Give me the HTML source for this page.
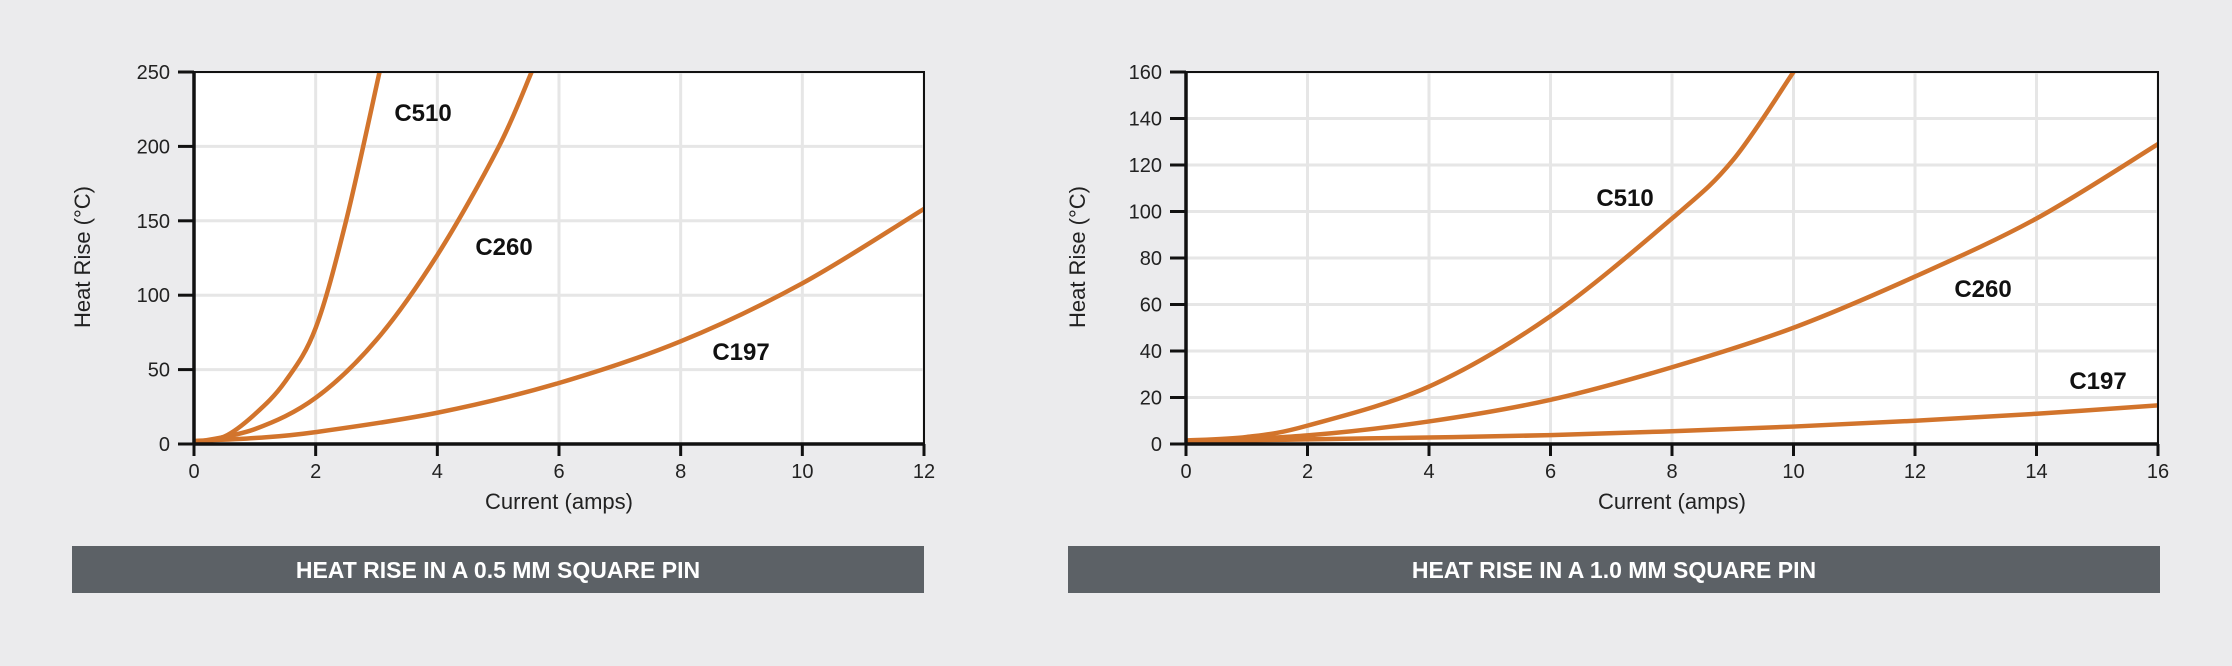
<!DOCTYPE html>
<html><head><meta charset="utf-8"><style>
html,body{margin:0;padding:0;background:#ebebed;}
svg{display:block;font-family:"Liberation Sans",sans-serif;}
</style></head><body>
<svg id="chart" width="2232" height="666" viewBox="0 0 2232 666" xmlns="http://www.w3.org/2000/svg">
<rect width="2232" height="666" fill="#ebebed"/>
<defs>
<clipPath id="clipL"><rect x="194" y="72" width="730" height="372"/></clipPath>
<clipPath id="clipR"><rect x="1186" y="72" width="972" height="372"/></clipPath>
</defs>
<g id="left"></g>
<g id="right"></g>
<rect x="72" y="546" width="852" height="47" fill="#5c6166"/>
<text x="498" y="578" text-anchor="middle" fill="#fff" font-size="23" font-weight="bold">HEAT RISE IN A 0.5 MM SQUARE PIN</text>
<rect x="1068" y="546" width="1092" height="47" fill="#5c6166"/>
<text x="1614" y="578" text-anchor="middle" fill="#fff" font-size="23" font-weight="bold">HEAT RISE IN A 1.0 MM SQUARE PIN</text>
</svg>
<script>
// Left chart data (0.5 mm)
const leftXTicks = [0,2,4,6,8,10,12];
const leftYTicks = [0,50,100,150,200,250];
const leftC510X = [0,0.5,1,1.5,2,2.5,3.05];
const leftC510Y = [1,5,20,42,78,150,250];
const leftC260X = [0,1,2,3,4,5,5.55];
const leftC260Y = [1,10,31,70,127,199,250];
const leftC197X = [0,1,2,4,6,8,10,12];
const leftC197Y = [2,4,8,21,41,69,108,158];
// Right chart data (1.0 mm)
const rightXTicks = [0,2,4,6,8,10,12,14,16];
const rightYTicks = [0,20,40,60,80,100,120,140,160];
const rightC510X = [0,1,2,4,6,8,9,10];
const rightC510Y = [1.5,3,7.9,24.7,55,97,122,160];
const rightC260X = [0,2,4,6,8,10,12,14,16];
const rightC260Y = [1,3.7,9.7,19,33,50,72,97,129];
const rightC197X = [0,2,4,6,8,10,12,14,16];
const rightC197Y = [1,2,2.8,3.8,5.5,7.5,10,13,16.6];

const NS='http://www.w3.org/2000/svg';
function mk(tag,attrs,parent){const e=document.createElementNS(NS,tag);for(const k in attrs)e.setAttribute(k,attrs[k]);parent.appendChild(e);return e;}

function spline(pts){
  let d='M'+pts[0][0]+','+pts[0][1];
  for(let i=0;i<pts.length-1;i++){
    const p0=pts[Math.max(0,i-1)],p1=pts[i],p2=pts[i+1],p3=pts[Math.min(pts.length-1,i+2)];
    const c1x=p1[0]+(p2[0]-p0[0])/6,c1y=p1[1]+(p2[1]-p0[1])/6;
    const c2x=p2[0]-(p3[0]-p1[0])/6,c2y=p2[1]-(p3[1]-p1[1])/6;
    d+=' C'+c1x+','+c1y+' '+c2x+','+c2y+' '+p2[0]+','+p2[1];
  }
  return d;
}

function drawChart(g,cfg){
  const {x0,x1,y0,y1,xmax,ymax,xTicks,yTicks,series,labels,clip,ylx,ytx}=cfg;
  const sx=v=>x0+(x1-x0)*v/xmax, sy=v=>y1-(y1-y0)*v/ymax;
  const bg=mk('rect',{x:x0,y:y0,width:x1-x0,height:y1-y0,fill:'#fff'},g);
  
  
  xTicks.forEach(t=>{
    const l=mk('line',{x1:sx(t),x2:sx(t),y1:y0,y2:y1,stroke:'#e6e6e6','stroke-width':3},g);
    
    
  });
  yTicks.forEach(t=>{
    const l=mk('line',{x1:x0,x2:x1,y1:sy(t),y2:sy(t),stroke:'#e6e6e6','stroke-width':3},g);
    
    
  });
  series.forEach(s=>{
    const pts=s.x.map((v,i)=>[sx(v),sy(s.y[i])]);
    const p=mk('path',{d:spline(pts),fill:'none',stroke:'#d2742c','stroke-width':4.5,'clip-path':'url(#'+clip+')','stroke-linecap':'round'},g);
    
    
  });
  const fr=mk('rect',{x:x0,y:y0,width:x1-x0,height:y1-y0,fill:'none',stroke:'#111','stroke-width':2},g);
  
  
  const ax=mk('line',{x1:x0,x2:x0,y1:y0,y2:y1+1.5,stroke:'#111','stroke-width':3.5},g);
  
  
  const bx=mk('line',{x1:x0,x2:x1,y1:y1,y2:y1,stroke:'#111','stroke-width':3.5},g);
  
  
  yTicks.forEach(t=>{
    const tk=mk('line',{x1:x0-16,x2:x0,y1:sy(t),y2:sy(t),stroke:'#111','stroke-width':3},g);
    
    
    const tx=mk('text',{x:x0-24,y:sy(t)+7,'text-anchor':'end','font-size':20,fill:'#222'},g);
    tx.textContent=t;
    
    
  });
  xTicks.forEach(t=>{
    const tk=mk('line',{x1:sx(t),x2:sx(t),y1:y1,y2:y1+12,stroke:'#111','stroke-width':3},g);
    
    
    const tx=mk('text',{x:sx(t),y:y1+34,'text-anchor':'middle','font-size':20,fill:'#222'},g);
    tx.textContent=t;
    
    
  });
  const xt=mk('text',{x:(x0+x1)/2,y:509,'text-anchor':'middle','font-size':22,fill:'#222'},g);
  xt.textContent='Current (amps)';
  
  
  const yt=mk('text',{x:ytx,y:257,'text-anchor':'middle','font-size':22,fill:'#222',transform:'rotate(-90 '+ytx+' 257)','dy':8},g);
  yt.textContent='Heat Rise (°C)';
  
  
  labels.forEach(L=>{
    const t=mk('text',{x:L[1],y:L[2]+8,'text-anchor':'middle','font-size':24,'font-weight':'bold',fill:'#111'},g);
    t.textContent=L[0];
    
    
  });
}

drawChart(document.getElementById('left'),{x0:194,x1:924,y0:72,y1:444,xmax:12,ymax:250,
  xTicks:leftXTicks,yTicks:leftYTicks,clip:'clipL',ytx:82,
  series:[{name:'C510',x:leftC510X,y:leftC510Y},{name:'C260',x:leftC260X,y:leftC260Y},{name:'C197',x:leftC197X,y:leftC197Y}],
  labels:[['C510',423,113],['C260',504,247],['C197',741,352]]});
drawChart(document.getElementById('right'),{x0:1186,x1:2158,y0:72,y1:444,xmax:16,ymax:160,
  xTicks:rightXTicks,yTicks:rightYTicks,clip:'clipR',ytx:1077,
  series:[{name:'C510',x:rightC510X,y:rightC510Y},{name:'C260',x:rightC260X,y:rightC260Y},{name:'C197',x:rightC197X,y:rightC197Y}],
  labels:[['C510',1625,198],['C260',1983,289],['C197',2098,381]]});
</script>
</body></html>
